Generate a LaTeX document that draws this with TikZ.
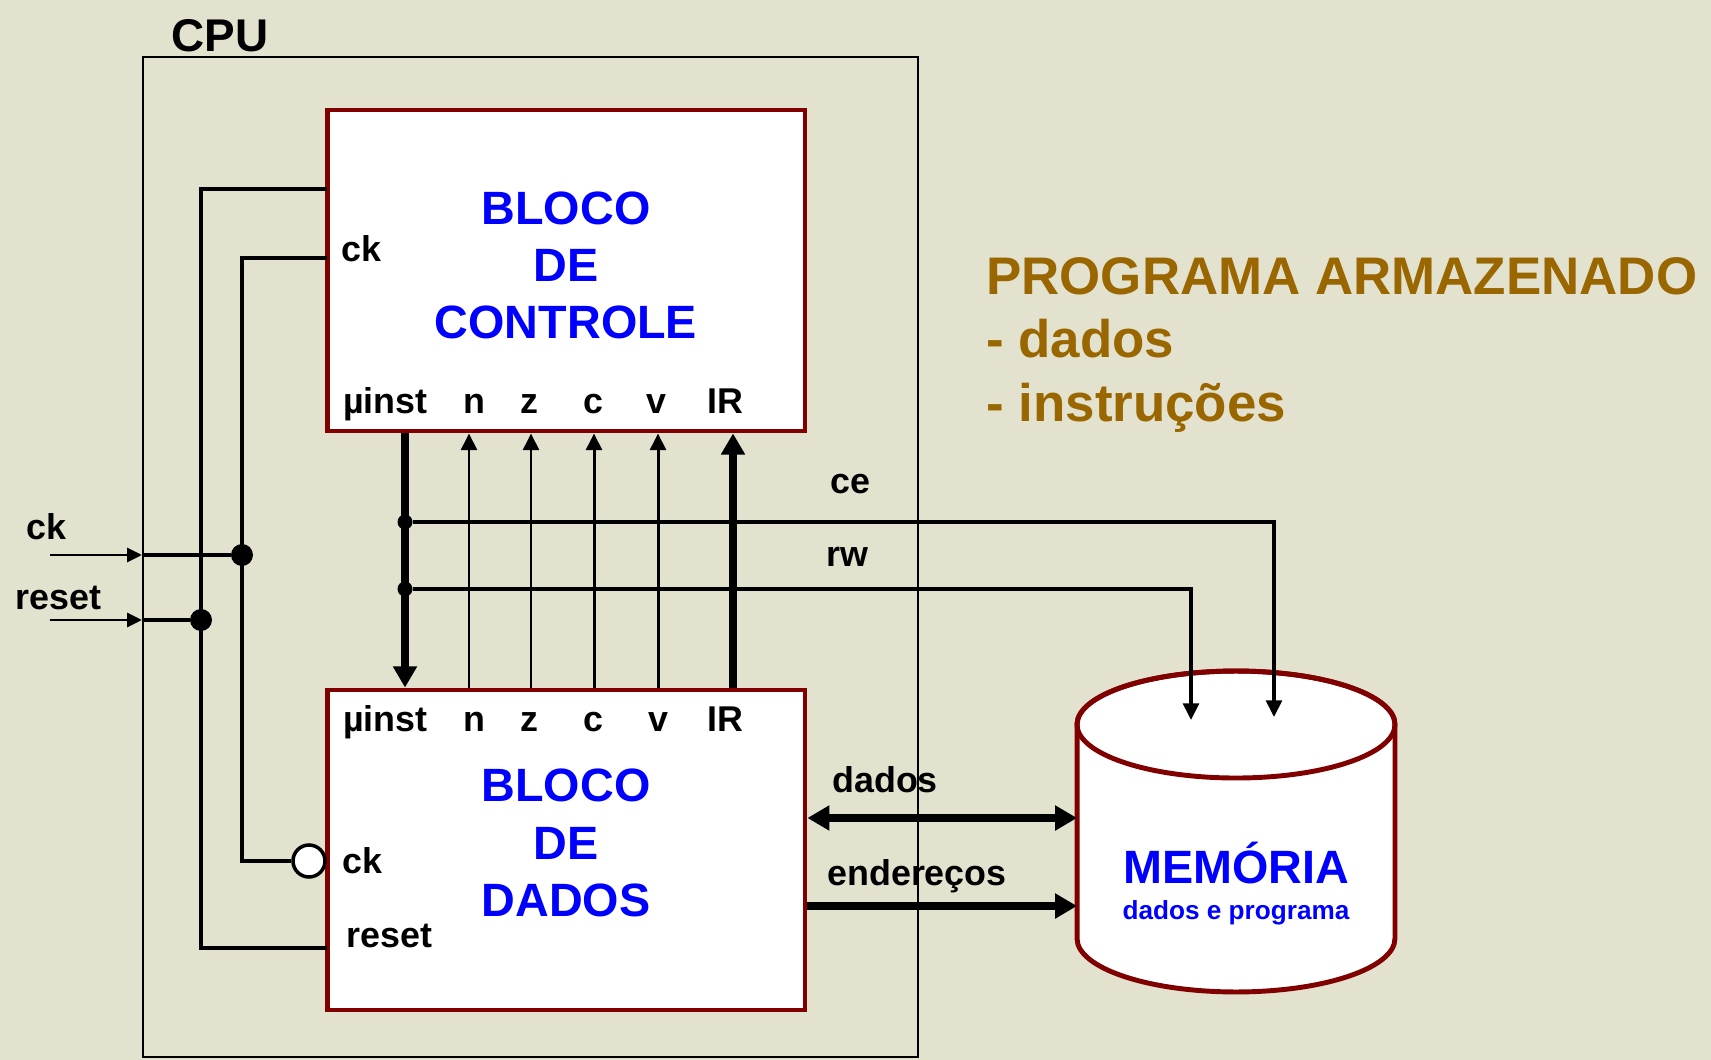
\documentclass[tikz,border=0pt]{standalone}
\usepackage{fontspec}
\setmainfont{Liberation Sans}
\usetikzlibrary{
    arrows.meta    % pontas Triangle
}
\definecolor{fundo}{RGB}{226,226,207}
\definecolor{vinho}{RGB}{128,0,0}
\definecolor{ouro}{RGB}{153,102,0}

\begin{document}
\begin{tikzpicture}[
      x=0.02cm, y=-0.02cm,
      >={Triangle[length=9.5pt, width=9pt]},
      blk/.style ={draw=vinho, line width=2.8pt, fill=white, minimum width=9.56cm, minimum height=6.42cm},
      ttl/.style ={text=blue, align=center, font=\bfseries\fontsize{26.6}{32.5}\selectfont},
      port/.style={anchor=base, inner sep=0pt, font=\bfseries\fontsize{20.4}{24}\selectfont},
      prog/.style={anchor=base west, inner sep=0pt, text=ouro, font=\bfseries\fontsize{30.1}{36}\selectfont},
      sig/.style ={->, line width=1.7pt},
      wire/.style={line width=1.9pt},
      bus/.style ={line width=4pt, -{Triangle[length=12pt, width=13pt]}},
      dbus/.style={line width=4pt, >={Triangle[length=12.5pt, width=13.6pt]}},
      dot/.style ={circle, fill=black, inner sep=0pt, minimum size=#1},
      cyl/.style ={draw=vinho, line width=2.8pt}
    ]

    % --- Fundo e caixa da CPU ---
    \useasboundingbox (0,0) rectangle (1711,1060);
    \fill[fundo] (0,0) rectangle (1711,1060);
    \node[draw, line width=1.3pt, minimum width=15.5cm, minimum height=20cm] (cpu) at (530.5,557) {};
    \node[port, font=\bfseries\fontsize{26.1}{30}\selectfont] (cpu_lbl) at (220,52) {CPU};

    % --- Blocos ---
    \node[blk] (ctl) at (566,270.5) {};
    \node[blk, minimum height=6.4cm] (dat) at (566,850) {};
    \node[ttl] (ctl_ttl) at (566,265.5) {BLOCO\\DE\\CONTROLE};
    \node[ttl] (dat_ttl) at (566,843) {BLOCO\\DE\\DADOS};

    % --- Portas do bloco de controle ---
    \node[port, anchor=base west] (c_ck) at (341,262) {ck};
    \node[port, anchor=base west] (c_ui) at (343,414) {µinst};
    \node[port] (c_n)  at (474,414) {n};
    \node[port] (c_z)  at (529,414) {z};
    \node[port] (c_c)  at (593,414) {c};
    \node[port] (c_v)  at (656,414) {v};
    \node[port] (c_ir) at (725,414) {IR};

    % --- Portas do bloco de dados ---
    \node[port, anchor=base west] (d_ui)  at (343,731) {µinst};
    \node[port] (d_n)  at (474,731) {n};
    \node[port] (d_z)  at (529,731) {z};
    \node[port] (d_c)  at (593,731) {c};
    \node[port] (d_v)  at (658,731) {v};
    \node[port] (d_ir) at (725,731) {IR};
    \node[port, anchor=base west] (d_ck)  at (342,873) {ck};
    \node[port, anchor=base west] (d_rst) at (346,947) {reset};

    % --- Entradas externas ck / reset ---
    \node[port, anchor=base west] (in_ck_lbl)  at (26,540) {ck};
    \node[port, anchor=base west] (in_rst_lbl) at (15,610) {reset};
    \coordinate (in_ck)  at (50,555);
    \coordinate (in_rst) at (50,620);
    \node[dot=0.44cm] (j_ck)  at (242,555) {};
    \node[dot=0.44cm] (j_rst) at (201,620) {};
    \node[circle, draw, fill=white, line width=2pt, minimum size=0.64cm, inner sep=0pt] (d_bub) at (309,861) {};

    \draw[->, line width=1.7pt, >={Triangle[length=8.5pt, width=8pt]}] (in_ck)  -- (in_ck -| cpu.west);
    \draw[->, line width=1.7pt, >={Triangle[length=8.5pt, width=8pt]}] (in_rst) -- (in_rst -| cpu.west);
    \draw[wire, line width=2.5pt] (in_ck -| cpu.west)  -- (j_ck);
    \draw[wire, line width=2.5pt] (in_rst -| cpu.west) -- (j_rst);

    % --- Distribuicao de ck e reset ---
    \coordinate (c_rst_in) at (327,189);
    \coordinate (c_ck_in)  at (327,258);
    \coordinate (d_rst_in) at (327,948);
    \draw[wire] (c_rst_in) -| (j_rst.center) |- (d_rst_in);
    \draw[wire] (c_ck_in)  -| (j_ck.center)  |- (d_bub);

    % --- Barramentos entre os blocos ---
    \node[dot=0.3cm] (j_ce) at (405,522) {};
    \node[dot=0.3cm] (j_rw) at (405,589) {};
    \coordinate (ir_bus) at (733,560);
    \draw[bus] (ctl.south -| j_ce) -- (dat.north -| j_ce);
    \draw[bus] (dat.north -| ir_bus) -- (ctl.south -| ir_bus);

    % --- Flags n z c v ---
    \coordinate (f_n) at (469,560);
    \coordinate (f_z) at (531,560);
    \coordinate (f_c) at (594,560);
    \coordinate (f_v) at (658,560);
    \draw[sig] (dat.north -| f_n) -- (ctl.south -| f_n);
    \draw[sig] (dat.north -| f_z) -- (ctl.south -| f_z);
    \draw[sig] (dat.north -| f_c) -- (ctl.south -| f_c);
    \draw[sig] (dat.north -| f_v) -- (ctl.south -| f_v);

    % --- Memoria (cilindro) ---
    \node[minimum width=6.36cm, minimum height=6.42cm, inner sep=0pt, outer sep=0pt] (mem) at (1236,831.5) {};
    \path[cyl, fill=white]
        ([yshift=-1.07cm]mem.north west) -- ([yshift=1.07cm]mem.south west)
        arc[start angle=180, end angle=360, x radius=3.18cm, y radius=1.07cm]
        -- ([yshift=-1.07cm]mem.north east)
        arc[start angle=0, end angle=180, x radius=3.18cm, y radius=1.07cm] -- cycle;
    \draw[cyl] ([yshift=-1.07cm]mem.north) ellipse[x radius=3.18cm, y radius=1.07cm];
    \node[port, text=blue, font=\bfseries\fontsize{26.6}{30}\selectfont] (mem_t) at (1236,883) {MEMÓRIA};
    \node[port, text=blue, font=\bfseries\fontsize{14.9}{18}\selectfont] (mem_s) at (1236,919) {dados e programa};

    % --- Sinais ce / rw ---
    \coordinate (m_ce) at (1274,717);
    \coordinate (m_rw) at (1191,720);
    \draw[sig, line width=2pt] (j_ce) -| (m_ce);
    \draw[sig, line width=2pt] (j_rw) -| (m_rw);
    \node[port, anchor=base west] (l_ce) at (830,494) {ce};
    \node[port, anchor=base west] (l_rw) at (826,567) {rw};

    % --- Dados e enderecos ---
    \coordinate (a_dad) at (940,818);
    \coordinate (a_end) at (940,906);
    \draw[dbus, <->] (dat.east |- a_dad) -- (mem.west |- a_dad);
    \draw[dbus, ->]  (dat.east |- a_end) -- (mem.west |- a_end);
    \node[port, anchor=base west] (l_dad) at (832,792) {dados};
    \node[port, anchor=base west] (l_end) at (827,885) {endereços};

    % --- Texto lateral ---
    \node[prog] (prog)   at (986,295) {PROGRAMA ARMAZENADO};
    \node[prog] (prog_d) at (986,358) {- dados};
    \node[prog] (prog_i) at (986,422) {- instruções};

  \end{tikzpicture}
\end{document}
